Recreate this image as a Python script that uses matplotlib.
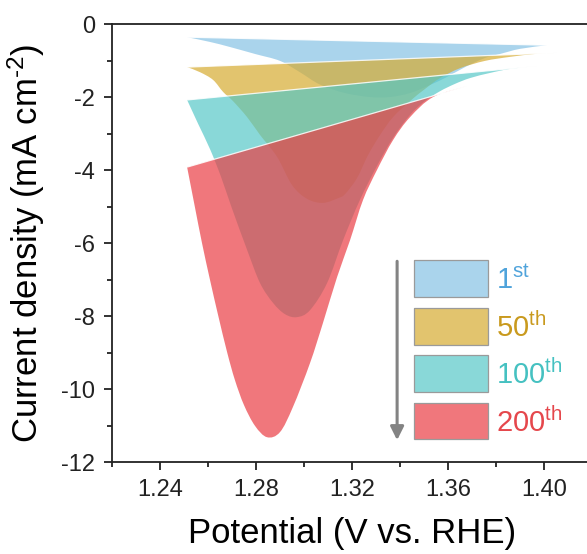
import matplotlib
matplotlib.use("Agg")
import numpy as np
import matplotlib.pyplot as plt
from matplotlib.patches import Rectangle, PathPatch
from matplotlib.path import Path
from matplotlib.ticker import MultipleLocator

plt.rcParams['font.family'] = ['Liberation Sans', 'DejaVu Sans']
plt.rcParams['mathtext.fontset'] = 'custom'
plt.rcParams['mathtext.rm'] = 'Liberation Sans'
plt.rcParams['mathtext.it'] = 'Liberation Sans:italic'
plt.rcParams['axes.unicode_minus'] = False

# Cycle labels
cycles = ["1", "50", "100", "200"]
suffixes = ["st", "th", "th", "th"]

# Cathodic sweep (lower boundary) of each loop: potential (V) and current density (mA cm-2)
lower_1_E = [1.2513, 1.2608, 1.2692, 1.2796, 1.2900, 1.2983, 1.3067, 1.3171, 1.3275,
             1.3358, 1.3442, 1.3525, 1.3596, 1.3671, 1.3754, 1.3817, 1.3900, 1.4013]
lower_1_j = [-0.36, -0.49, -0.63, -0.82, -1.01, -1.32, -1.66, -1.89, -2.00,
             -2.00, -1.89, -1.67, -1.45, -1.18, -0.93, -0.82, -0.68, -0.58]

lower_50_E = [1.2513, 1.2567, 1.2621, 1.2663, 1.2704, 1.2763, 1.2817, 1.2888, 1.2950,
              1.3013, 1.3079, 1.3142, 1.3171, 1.3221, 1.3267, 1.3317, 1.3371, 1.3442,
              1.3504, 1.3567, 1.3650, 1.3754, 1.3858, 1.3963, 1.4054]
lower_50_j = [-1.18, -1.32, -1.53, -1.86, -2.11, -2.55, -3.04, -3.64, -4.41,
              -4.79, -4.90, -4.77, -4.66, -4.22, -3.59, -3.04, -2.55, -2.11,
              -1.78, -1.48, -1.21, -1.01, -0.90, -0.82, -0.79]

lower_100_E = [1.2513, 1.2560, 1.2610, 1.2655, 1.2697, 1.2763, 1.2817, 1.2871, 1.2921,
               1.2971, 1.3025, 1.3096, 1.3163, 1.3233, 1.3304, 1.3371, 1.3442, 1.3504,
               1.3567, 1.3629, 1.3692, 1.3775, 1.3858, 1.3971]
lower_100_j = [-2.08, -2.75, -3.45, -4.20, -5.00, -6.19, -7.10, -7.64, -7.95,
               -8.03, -7.84, -7.10, -5.92, -4.82, -3.89, -3.12, -2.49, -2.11,
               -1.84, -1.64, -1.48, -1.34, -1.23, -1.15]

lower_200_E = [1.2513, 1.2545, 1.2575, 1.2608, 1.2643, 1.2680, 1.2712, 1.2750,
               1.2796, 1.2846, 1.2900, 1.2954, 1.3025, 1.3079, 1.3138, 1.3192, 1.3246,
               1.3304, 1.3371, 1.3442, 1.3538, 1.3679]
lower_200_j = [-3.92, -5.00, -6.00, -7.00, -8.00, -9.00, -9.75, -10.44,
               -11.01, -11.32, -11.18, -10.49, -9.29, -8.19, -6.93, -5.92, -4.82,
               -4.00, -3.18, -2.55, -2.00, -1.70]

# Anodic return (upper boundary): start and end points of each loop
upper_1_E, upper_1_j = [1.2513, 1.4013], [-0.36, -0.58]
upper_50_E, upper_50_j = [1.2513, 1.4054], [-1.18, -0.79]
upper_100_E, upper_100_j = [1.2513, 1.3971], [-2.08, -1.15]
upper_200_E, upper_200_j = [1.2513, 1.3679], [-3.92, -1.70]

fill_colors = ["#86C2E5", "#D6AB31", "#52C6C6", "#EA3E44"]
fill_alphas = [0.70, 0.70, 0.68, 0.70]
text_colors = ["#4FA3DB", "#C99A1E", "#45C1C1", "#E5474C"]

loops = [
    (lower_1_E, lower_1_j, upper_1_E, upper_1_j),
    (lower_50_E, lower_50_j, upper_50_E, upper_50_j),
    (lower_100_E, lower_100_j, upper_100_E, upper_100_j),
    (lower_200_E, lower_200_j, upper_200_E, upper_200_j),
]


def loop_path(lE, lj, uE, uj):
    """Closed path: smooth (Catmull-Rom Bezier) cathodic branch, straight return branch."""
    pts = np.column_stack([lE, lj])
    ext = np.vstack([pts[0], pts, pts[-1]])
    verts = [pts[0]]
    codes = [Path.MOVETO]
    for k in range(1, len(ext) - 2):
        p0, p1, p2, p3 = ext[k - 1], ext[k], ext[k + 1], ext[k + 2]
        c1 = p1 + (p2 - p0) / 6.0
        c2 = p2 - (p3 - p1) / 6.0
        verts += [c1, c2, p2]
        codes += [Path.CURVE4] * 3
    for e, j in zip(uE[::-1], uj[::-1]):
        verts.append((e, j))
        codes.append(Path.LINETO)
    verts.append(pts[0])
    codes.append(Path.CLOSEPOLY)
    return Path(np.array(verts), codes)


fig = plt.figure(figsize=(5.87, 5.54), dpi=100)
ax = fig.add_axes([0.1908, 0.166, 0.8177, 0.7906])

for i, (lE, lj, uE, uj) in enumerate(loops):
    ax.add_patch(PathPatch(loop_path(lE, lj, uE, uj), facecolor=fill_colors[i],
                           alpha=fill_alphas[i], lw=0, zorder=2 + i))
    ax.plot(uE, uj, color="white", lw=0.9, alpha=0.85, zorder=2 + i,
            solid_capstyle="butt")

ax.set_xlim(1.22, 1.42)
ax.set_ylim(-12, 0)
ax.xaxis.set_minor_locator(MultipleLocator(0.02))
ax.yaxis.set_minor_locator(MultipleLocator(1))
ax.set_xticks([1.24, 1.28, 1.32, 1.36, 1.40])
ax.set_xticklabels(["1.24", "1.28", "1.32", "1.36", "1.40"])
ax.set_yticks([0, -2, -4, -6, -8, -10, -12])
ax.set_yticklabels(["0", "-2", "-4", "-6", "-8", "-10", "-12"])

ax.tick_params(which="major", direction="out", length=6, width=1.3, labelsize=17,
               colors="#222222", pad=6)
ax.tick_params(which="minor", direction="out", length=3.5, width=1.3, colors="#222222")
ax.tick_params(axis="x", which="both", top=False)
ax.tick_params(axis="y", which="both", right=False)
for side in ["left", "bottom", "top"]:
    ax.spines[side].set_linewidth(1.3)
    ax.spines[side].set_color("#222222")
ax.spines["right"].set_visible(False)

ax.set_xlabel("Potential (V vs. RHE)", fontsize=25, labelpad=12)
ax.set_ylabel("Current density (mA cm$^{\\text{-}\\mathrm{2}}$)", fontsize=25, labelpad=10)

# Sequence arrow and colour key
ax.annotate("", xy=(1.3388, -11.40), xytext=(1.3388, -6.50),
            arrowprops=dict(arrowstyle="-|>", color="#838383", lw=2.2,
                            mutation_scale=20, shrinkA=0, shrinkB=0), zorder=10)

box_x0, box_w = 1.3458, 0.0309
box_tops = [-6.47, -7.78, -9.07, -10.38]
box_h = 1.0
for i in range(4):
    ax.add_patch(Rectangle((box_x0, box_tops[i] - box_h), box_w, box_h,
                           facecolor=fill_colors[i], alpha=fill_alphas[i],
                           edgecolor="none", zorder=10))
    ax.add_patch(Rectangle((box_x0, box_tops[i] - box_h), box_w, box_h,
                           facecolor="none", edgecolor="#9a9a9a", lw=0.9, zorder=11))
    ax.text(box_x0 + box_w + 0.0035, box_tops[i] - box_h / 2 - 0.05,
            cycles[i] + "$^{\\mathrm{" + suffixes[i] + "}}$",
            color=text_colors[i], fontsize=21, va="center", ha="left", zorder=12)

fig.savefig("out.png", dpi=100)
